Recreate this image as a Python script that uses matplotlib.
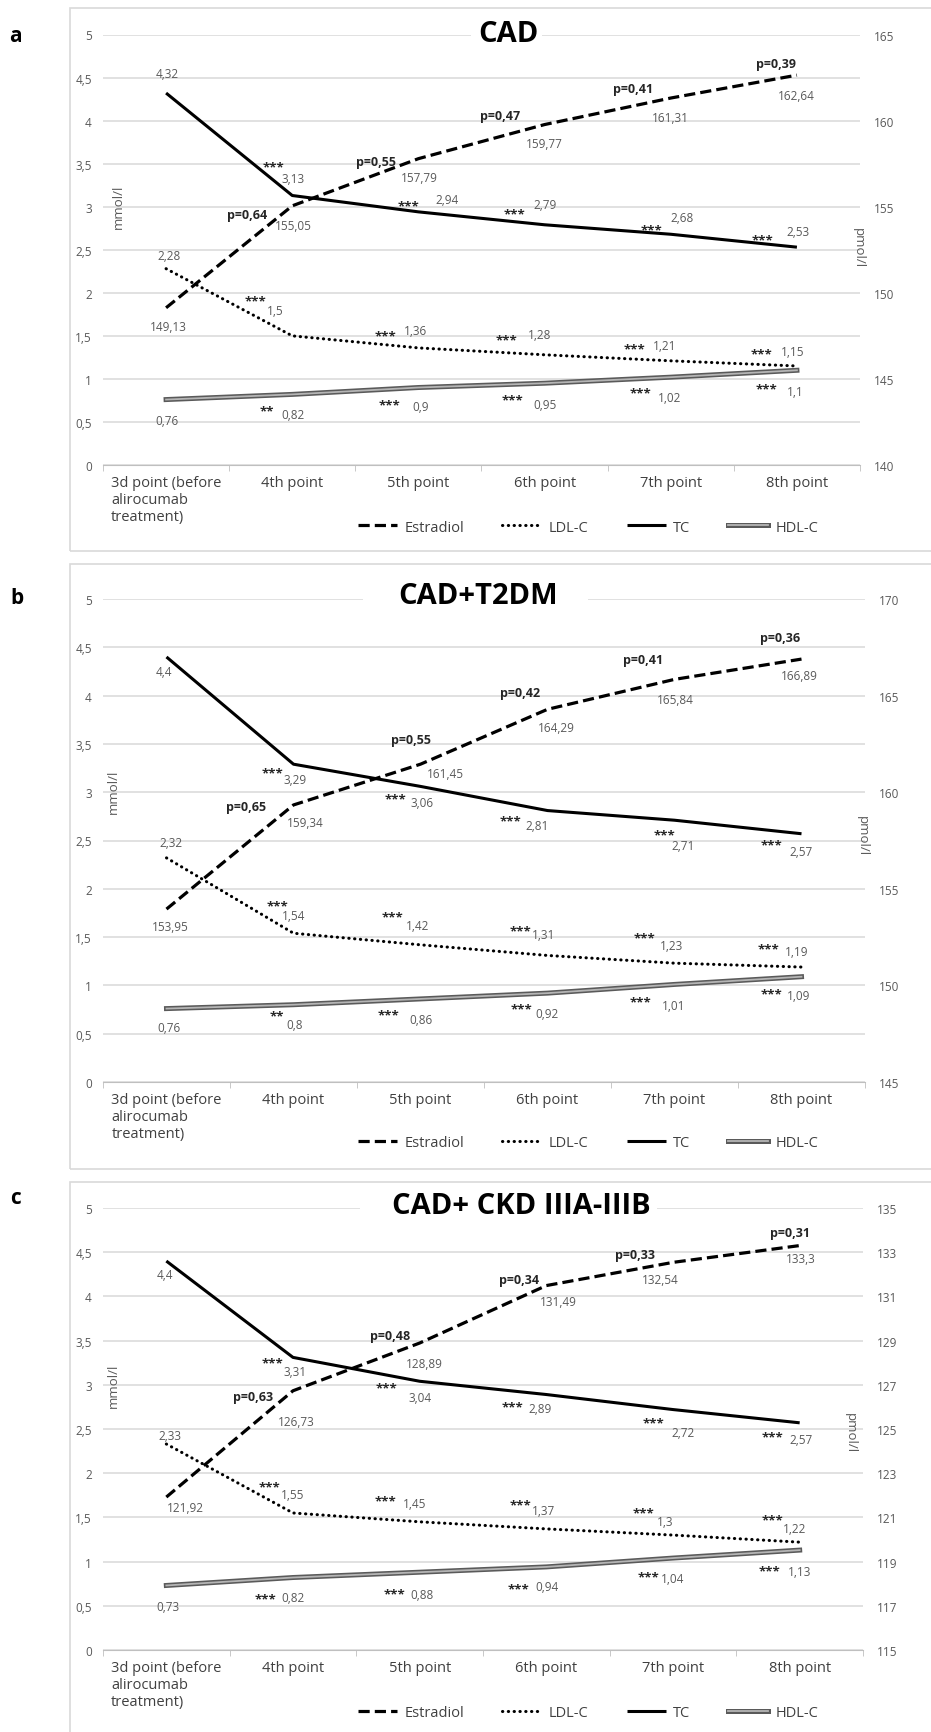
import matplotlib
matplotlib.use('Agg')
import matplotlib.pyplot as plt
import matplotlib.patheffects as pe
from matplotlib.patches import Rectangle
from matplotlib.ticker import FixedLocator, FuncFormatter

W, H = 931, 1733
plt.rcParams['font.family'] = ['Open Sans', 'DejaVu Sans']

categories = ['3d point (before\nalirocumab\ntreatment)', '4th point', '5th point',
              '6th point', '7th point', '8th point']
series_names = ['Estradiol', 'LDL-C', 'TC', 'HDL-C']

# panel a - CAD
cad_tc = [4.32, 3.13, 2.94, 2.79, 2.68, 2.53]
cad_ldl = [2.28, 1.5, 1.36, 1.28, 1.21, 1.15]
cad_hdl = [0.76, 0.82, 0.9, 0.95, 1.02, 1.1]
cad_estradiol = [149.13, 155.05, 157.79, 159.77, 161.31, 162.64]
cad_p = [None, 0.64, 0.55, 0.47, 0.41, 0.39]
cad_tc_stars = ['', '***', '***', '***', '***', '***']
cad_ldl_stars = ['', '***', '***', '***', '***', '***']
cad_hdl_stars = ['', '**', '***', '***', '***', '***']

# panel b - CAD+T2DM
t2dm_tc = [4.4, 3.29, 3.06, 2.81, 2.71, 2.57]
t2dm_ldl = [2.32, 1.54, 1.42, 1.31, 1.23, 1.19]
t2dm_hdl = [0.76, 0.8, 0.86, 0.92, 1.01, 1.09]
t2dm_estradiol = [153.95, 159.34, 161.45, 164.29, 165.84, 166.89]
t2dm_p = [None, 0.65, 0.55, 0.42, 0.41, 0.36]
t2dm_tc_stars = ['', '***', '***', '***', '***', '***']
t2dm_ldl_stars = ['', '***', '***', '***', '***', '***']
t2dm_hdl_stars = ['', '**', '***', '***', '***', '***']

# panel c - CAD+ CKD IIIA-IIIB
ckd_tc = [4.4, 3.31, 3.04, 2.89, 2.72, 2.57]
ckd_ldl = [2.33, 1.55, 1.45, 1.37, 1.3, 1.22]
ckd_hdl = [0.73, 0.82, 0.88, 0.94, 1.04, 1.13]
ckd_estradiol = [121.92, 126.73, 128.89, 131.49, 132.54, 133.3]
ckd_p = [None, 0.63, 0.48, 0.34, 0.33, 0.31]
ckd_tc_stars = ['', '***', '***', '***', '***', '***']
ckd_ldl_stars = ['', '***', '***', '***', '***', '***']
ckd_hdl_stars = ['', '***', '***', '***', '***', '***']

# label offsets in pixels (dx right, dy down) -- layout only
offs_a = dict(
    tc=[(1, -20), (1, -17), (29, -12), (0, -20), (11, -17), (1, -16)],
    tc_s=[None, (-19, -33), (-10, -10), (-30, -15), (-19, -8), (-34, -11)],
    e=[(2, 19), (1, 20), (1, 19), (0, 19), (0, 19), (-1, 20)],
    p=[None, (-45, 9), (-42, 3), (-45, -9), (-38, -10), (-21, -12)],
    ldl=[(3, -13), (-17, -25), (-3, -17), (-5, -20), (-6, -15), (-4, -14)],
    ldl_s=[None, (-37, -39), (-33, -16), (-38, -19), (-36, -16), (-35, -16)],
    hdl=[(1, 21), (1, 20), (2, 19), (0, 21), (-1, 20), (-2, 21)],
    hdl_s=[None, (-25, 12), (-29, 13), (-32, 13), (-30, 12), (-30, 15)],
)
offs_b = dict(
    tc=[(-3, 15), (2, 15), (2, 16), (-10, 15), (9, 25), (0, 18)],
    tc_s=[None, (-21, 5), (-25, 8), (-37, 6), (-10, 11), (-30, 7)],
    e=[(4, 17), (12, 18), (25, 9), (9, 18), (1, 20), (-2, 16)],
    p=[None, (-47, 2), (-10, -25), (-27, -17), (-31, -20), (-21, -22)],
    ldl=[(4, -15), (0, -18), (-3, -19), (-4, -21), (-3, -18), (-5, -16)],
    ldl_s=[None, (-16, -31), (-28, -32), (-27, -29), (-30, -29), (-33, -22)],
    hdl=[(2, 19), (1, 20), (0, 21), (0, 20), (-1, 21), (-3, 19)],
    hdl_s=[None, (-17, 7), (-32, 12), (-26, 12), (-34, 13), (-30, 13)],
)
offs_c = dict(
    tc=[(-1, 13), (2, 14), (0, 16), (-6, 14), (10, 23), (1, 17)],
    tc_s=[None, (-21, 1), (-33, 3), (-34, 8), (-20, 9), (-27, 10)],
    e=[(19, 10), (3, 31), (5, 20), (12, 16), (-13, 17), (1, 13)],
    p=[None, (-40, 6), (-30, -8), (-27, -6), (-38, -8), (-10, -13)],
    ldl=[(4, -9), (0, -18), (-5, -18), (-3, -18), (-8, -14), (-5, -14)],
    ldl_s=[None, (-24, -30), (-34, -25), (-26, -28), (-30, -26), (-27, -26)],
    hdl=[(2, 21), (0, 20), (2, 22), (1, 20), (0, 20), (0, 21)],
    hdl_s=[None, (-28, 17), (-25, 18), (-28, 18), (-25, 15), (-30, 17)],
)

panels = [
    dict(letter='a', title='CAD', tc=cad_tc, ldl=cad_ldl, hdl=cad_hdl, e=cad_estradiol, p=cad_p,
         tc_s=cad_tc_stars, ldl_s=cad_ldl_stars, hdl_s=cad_hdl_stars, offs=offs_a,
         rlim=(140, 165), rstep=5, plot=(103, 35.5, 860, 466), box=(70, 9, 940, 552),
         title_xy=(508, 35), gap=(471, 542), letter_xy=(15, 37),
         ylab=(118, 207), rlab=(858, 248), legend_y=528),
    dict(letter='b', title='CAD+T2DM', tc=t2dm_tc, ldl=t2dm_ldl, hdl=t2dm_hdl, e=t2dm_estradiol, p=t2dm_p,
         tc_s=t2dm_tc_stars, ldl_s=t2dm_ldl_stars, hdl_s=t2dm_hdl_stars, offs=offs_b,
         rlim=(145, 170), rstep=5, plot=(103, 600, 865, 1083), box=(70, 565, 940, 1170),
         title_xy=(478, 597), gap=(363, 588), letter_xy=(17, 598),
         ylab=(113, 792), rlab=(862, 836), legend_y=1144),
    dict(letter='c', title='CAD+ CKD IIIA-IIIB', tc=ckd_tc, ldl=ckd_ldl, hdl=ckd_hdl, e=ckd_estradiol, p=ckd_p,
         tc_s=ckd_tc_stars, ldl_s=ckd_ldl_stars, hdl_s=ckd_hdl_stars, offs=offs_c,
         rlim=(115, 135), rstep=2, plot=(103, 1209, 863, 1651), box=(70, 1183, 940, 1760),
         title_xy=(521, 1207), gap=(360, 657), letter_xy=(15, 1198),
         ylab=(113, 1386), rlab=(850, 1433), legend_y=1714),
]

GRID = '#d9d9d9'
TXT = '#595959'
DARK = '#404040'


def fx(px):
    return px / W


def fy(py):
    return 1 - py / H


def comma(v):
    return f'{v:g}'.replace('.', ',')


fig = plt.figure(figsize=(W / 100, H / 100), dpi=100)
x = list(range(len(categories)))

for pnl in panels:
    x0, y0, x1, y1 = pnl['plot']
    ax = fig.add_axes([fx(x0), fy(y1), (x1 - x0) / W, (y1 - y0) / H])
    ax2 = ax.twinx()

    # outer frame of the panel
    bx0, by0, bx1, by1 = pnl['box']
    fig.patches.append(Rectangle((fx(bx0), fy(by1)), (bx1 - bx0) / W, (by1 - by0) / H,
                                 transform=fig.transFigure, fill=False, ec=GRID, lw=1.2, zorder=0))

    ax.set_xlim(-0.5, 5.5)
    ax.set_ylim(0, 5)
    ax2.set_ylim(*pnl['rlim'])
    ax.yaxis.set_major_locator(FixedLocator([i * 0.5 for i in range(11)]))
    ax.yaxis.set_major_formatter(FuncFormatter(lambda v, pos: comma(round(v, 1))))
    r0, r1 = pnl['rlim']
    ax2.yaxis.set_major_locator(FixedLocator(list(range(r0, r1 + 1, pnl['rstep']))))
    ax.grid(axis='y', color=GRID, lw=1.1)
    for a in (ax, ax2):
        for s in a.spines.values():
            s.set_visible(False)
    ax.spines['bottom'].set_visible(True)
    ax.spines['bottom'].set_color('#bfbfbf')
    ax.tick_params(axis='y', length=0, pad=8, labelsize=8.5, labelcolor=TXT)
    ax2.tick_params(axis='y', length=0, pad=10, labelsize=8.5, labelcolor=TXT)
    ax.set_xticks(x)
    ax.set_xticklabels(categories, fontsize=10.5, color=DARK, multialignment='left')
    ax.set_xticks([i - 0.5 for i in range(7)], minor=True)
    ax.tick_params(axis='x', which='major', length=0, pad=7)
    ax.tick_params(axis='x', which='minor', length=4, color='#bfbfbf')

    # series
    l_tc, = ax.plot(x, pnl['tc'], color='black', lw=2.2, solid_capstyle='butt', label='TC', zorder=3)
    l_ldl, = ax.plot(x, pnl['ldl'], color='black', lw=2.2, linestyle=(0, (0.1, 1.8)),
                     dash_capstyle='round', label='LDL-C', zorder=3)
    l_hdl, = ax.plot(x, pnl['hdl'], color='#b5b5b5', lw=1.3, label='HDL-C', zorder=3,
                     path_effects=[pe.Stroke(linewidth=3.6, foreground='#5a5a5a'), pe.Normal()])
    l_e, = ax2.plot(x, pnl['e'], color='black', lw=2.3, linestyle=(0, (3.5, 1.6)),
                    label='Estradiol', zorder=3)

    offs = pnl['offs']

    def lab(axis, i, v, txt, off, size=8.5, color=TXT, weight='normal', shift=0):
        if off is None or not txt:
            return
        axis.annotate(txt, xy=(i, v), xytext=(off[0], -(off[1] + shift)), textcoords='offset pixels',
                      ha='center', va='center', fontsize=size, color=color, fontweight=weight)

    for i in x:
        lab(ax, i, pnl['tc'][i], comma(pnl['tc'][i]), offs['tc'][i])
        lab(ax, i, pnl['tc'][i], pnl['tc_s'][i], offs['tc_s'][i], size=9.5, color='#262626', weight='bold', shift=4)
        lab(ax, i, pnl['ldl'][i], comma(pnl['ldl'][i]), offs['ldl'][i])
        lab(ax, i, pnl['ldl'][i], pnl['ldl_s'][i], offs['ldl_s'][i], size=9.5, color='#262626', weight='bold', shift=4)
        lab(ax, i, pnl['hdl'][i], comma(pnl['hdl'][i]), offs['hdl'][i])
        lab(ax, i, pnl['hdl'][i], pnl['hdl_s'][i], offs['hdl_s'][i], size=9.5, color='#262626', weight='bold', shift=4)
        lab(ax2, i, pnl['e'][i], comma(pnl['e'][i]), offs['e'][i])
        if pnl['p'][i] is not None:
            lab(ax2, i, pnl['e'][i], 'p=' + f"{pnl['p'][i]:.2f}".replace('.', ','), offs['p'][i],
                size=9, color='#262626', weight='bold')

    # title over the top gridline
    g0, g1 = pnl['gap']
    fig.patches.append(Rectangle((fx(g0), fy(pnl['title_xy'][1] + 6)), (g1 - g0) / W, 12 / H,
                                 transform=fig.transFigure, fc='white', ec='none', zorder=1))
    fig.text(fx(pnl['title_xy'][0]), fy(pnl['title_xy'][1]), pnl['title'], ha='center', va='center',
             fontsize=21, fontweight='bold', color='black', zorder=3)
    fig.text(fx(pnl['letter_xy'][0]), fy(pnl['letter_xy'][1]), pnl['letter'], ha='center', va='center',
             fontsize=15, fontweight='bold', color='black')
    fig.text(fx(pnl['ylab'][0]), fy(pnl['ylab'][1]), 'mmol/l', rotation=90, ha='center', va='center',
             fontsize=9.5, color=TXT)
    fig.text(fx(pnl['rlab'][0]), fy(pnl['rlab'][1]), 'pmol/l', rotation=270, ha='center', va='center',
             fontsize=9.5, color=TXT)

    fig.legend([l_e, l_ldl, l_tc, l_hdl], series_names, loc='center', ncol=4, frameon=False,
               bbox_to_anchor=(fx(588), fy(pnl['legend_y'])), fontsize=10.5, labelcolor=DARK,
               handlelength=2.7, handletextpad=0.5, columnspacing=2.6)

fig.savefig('out.png', dpi=100, facecolor='white')
plt.close(fig)
